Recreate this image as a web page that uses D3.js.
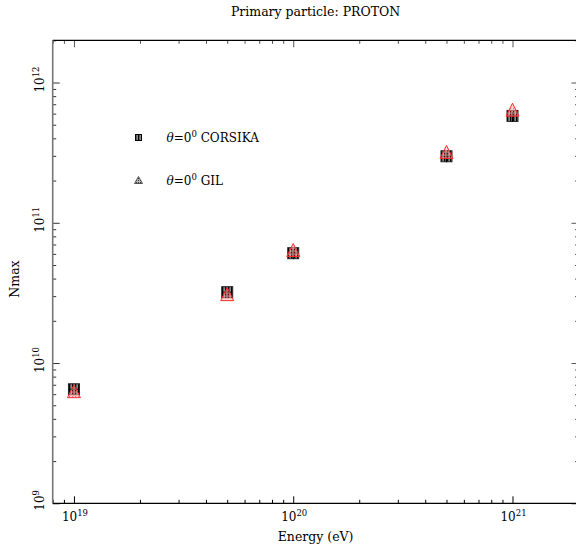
<!DOCTYPE html>
<html><head><meta charset="utf-8">
<script src="https://cdn.jsdelivr.net/npm/d3@7"></script>
<style>
html,body{margin:0;padding:0;background:#fff;}
svg{display:block;}
text{font-family:"DejaVu Serif","Liberation Serif",serif;fill:#000;}
</style></head>
<body>
<svg id="c" width="576" height="547"></svg>
<script>
const energies = [1e19, 5e19, 1e20, 5e20, 1e21];
const corsika = [6.5e9, 3.2e10, 6.07e10, 2.98e11, 5.78e11];
const gil = [6.3e9, 3.1e10, 6.4e10, 3.2e11, 6.4e11];
const xMajor = [1e19, 1e20, 1e21];
const xMajorExp = ["19", "20", "21"];
const yMajor = [1e9, 1e10, 1e11, 1e12];
const yMajorExp = ["9", "10", "11", "12"];
const xDomain = [8e18, 2e21];
const yDomain = [1e9, 2e12];
const legendLabels = ["CORSIKA", "GIL"];

const svg = d3.select("#c");
const L = 52.7, R = 578.5, T = 40.3, B = 503.3;
const x = d3.scaleLog().domain(xDomain).range([L, R]);
const y = d3.scaleLog().domain(yDomain).range([B, T]);

function minorTicks(dom){
  const out=[];
  const e0=Math.floor(Math.log10(dom[0])), e1=Math.ceil(Math.log10(dom[1]));
  for(let e=e0;e<=e1;e++) for(let m=2;m<=9;m++){const v=m*Math.pow(10,e); if(v>=dom[0]*0.999 && v<=dom[1]*1.001) out.push(v);}
  return out;
}
const xMinor = minorTicks(xDomain), yMinor = minorTicks(yDomain);

function axisGroup(axisFn, scale, vals, size, transform, color){
  const g = svg.append("g").attr("transform", transform)
    .call(axisFn(scale).tickValues(vals).tickSize(size).tickFormat(""));
  g.select(".domain").remove();
  g.selectAll(".tick line").attr("stroke", color).attr("stroke-width", 1);
  return g;
}
// bottom & top
axisGroup(d3.axisBottom, x, xMajor, -7, `translate(0,${B})`, "#000");
axisGroup(d3.axisBottom, x, xMinor, -3.5, `translate(0,${B})`, "#000");
axisGroup(d3.axisTop, x, xMajor, -7, `translate(0,${T})`, "#555");
axisGroup(d3.axisTop, x, xMinor, -3.5, `translate(0,${T})`, "#555");
// left & right
axisGroup(d3.axisLeft, y, yMajor, -7, `translate(${L},0)`, "#333");
axisGroup(d3.axisLeft, y, yMinor, -3.5, `translate(${L},0)`, "#333");
axisGroup(d3.axisRight, y, yMajor, -7, `translate(${R},0)`, "#555");
axisGroup(d3.axisRight, y, yMinor, -3.5, `translate(${R},0)`, "#555");

// frame
svg.append("line").attr("x1",L).attr("x2",R).attr("y1",T).attr("y2",T).attr("stroke","#000").attr("stroke-width",1.3);
svg.append("line").attr("x1",L).attr("x2",R).attr("y1",B).attr("y2",B).attr("stroke","#000").attr("stroke-width",1.3);
svg.append("line").attr("x1",L).attr("x2",L).attr("y1",T).attr("y2",B).attr("stroke","#777").attr("stroke-width",1.6);
svg.append("line").attr("x1",R).attr("x2",R).attr("y1",T).attr("y2",B).attr("stroke","#000").attr("stroke-width",1.3);

// x tick labels
xMajor.forEach((v,i)=>{
  const t = svg.append("text").attr("x", x(v)+1).attr("y", 521).attr("text-anchor","middle").style("font-size","12px");
  t.append("tspan").text("10");
  t.append("tspan").attr("dy",-5).style("font-size","8.5px").text(xMajorExp[i]);
});
// y tick labels (rotated)
yMajor.forEach((v,i)=>{
  const t = svg.append("text").attr("transform",`translate(43.5,${y(v)-3}) rotate(-90)`).attr("text-anchor","middle").style("font-size","12px");
  t.append("tspan").text("10");
  t.append("tspan").attr("dy",-5).style("font-size","8.5px").text(yMajorExp[i]);
});

// titles
svg.append("text").attr("x",(L+R)/2).attr("y",16).attr("text-anchor","middle").style("font-size","12.5px").text("Primary particle: PROTON");
svg.append("text").attr("x",(L+R)/2).attr("y",541).attr("text-anchor","middle").style("font-size","12.5px").text("Energy (eV)");
svg.append("text").attr("transform",`translate(19,279) rotate(-90)`).attr("text-anchor","middle").style("font-size","12.5px").text("Nmax");

// patterns
const defs = svg.append("defs");
const p = defs.append("pattern").attr("id","stripes").attr("patternUnits","userSpaceOnUse").attr("width",3).attr("height",3);
p.append("rect").attr("width",3).attr("height",3).attr("fill","#8a8a8a");
p.append("rect").attr("width",1.3).attr("height",3).attr("fill","#000");
const p2 = defs.append("pattern").attr("id","tri").attr("patternUnits","userSpaceOnUse").attr("width",3).attr("height",3);
p2.append("rect").attr("width",3).attr("height",3).attr("fill","#ffb0b0");
p2.append("rect").attr("width",1.2).attr("height",1.2).attr("fill","#e00000");
const p3 = defs.append("pattern").attr("id","tri2").attr("patternUnits","userSpaceOnUse").attr("width",2).attr("height",2);
p3.append("rect").attr("width",2).attr("height",2).attr("fill","#bbb");
p3.append("rect").attr("width",1).attr("height",1).attr("fill","#333");

// CORSIKA squares
const sq = 11;
svg.append("g").selectAll("rect").data(energies).join("rect")
  .attr("x",(d)=>x(d)-sq/2).attr("y",(d,i)=>y(corsika[i])-sq/2)
  .attr("width",sq).attr("height",sq)
  .attr("fill","url(#stripes)").attr("stroke","#222").attr("stroke-width",1);
// plus marks inside (crosshair look)
svg.append("g").selectAll("path").data(energies).join("path")
  .attr("d",(d,i)=>{const cx=x(d), cy=y(corsika[i]); return `M${cx-4},${cy}H${cx+4}M${cx},${cy-4}V${cy+6}`;})
  .attr("stroke","#000").attr("stroke-width",1);

// GIL triangles
const tw = 13, th = 13;
svg.append("g").selectAll("path").data(energies).join("path")
  .attr("d",(d,i)=>{const cx=x(d), cy=y(gil[i]); return `M${cx},${cy-th/2}L${cx+tw/2},${cy+th/2}L${cx-tw/2},${cy+th/2}Z`;})
  .attr("fill","url(#tri)").attr("fill-opacity",0.55).attr("stroke","#ff2a2a").attr("stroke-width",1);

// legend
svg.append("rect").attr("x",135.5).attr("y",134.5).attr("width",6).attr("height",6).attr("fill","url(#stripes)").attr("stroke","#000").attr("stroke-width",1);
svg.append("path").attr("d","M138.5,176.5L142.5,183.5L134.5,183.5Z").attr("fill","url(#tri2)").attr("stroke","#444").attr("stroke-width",0.9);
const legY = [142, 185];
legendLabels.forEach((lab,i)=>{
  const t = svg.append("text").attr("x",166.5).attr("y",legY[i]).style("font-size","12px");
  t.append("tspan").style("font-style","italic").text("θ");
  t.append("tspan").text("=0");
  t.append("tspan").attr("dy",-5).style("font-size","8.5px").text("0");
  t.append("tspan").attr("dy",5).text(" " + lab);
});
</script>
</body></html>
